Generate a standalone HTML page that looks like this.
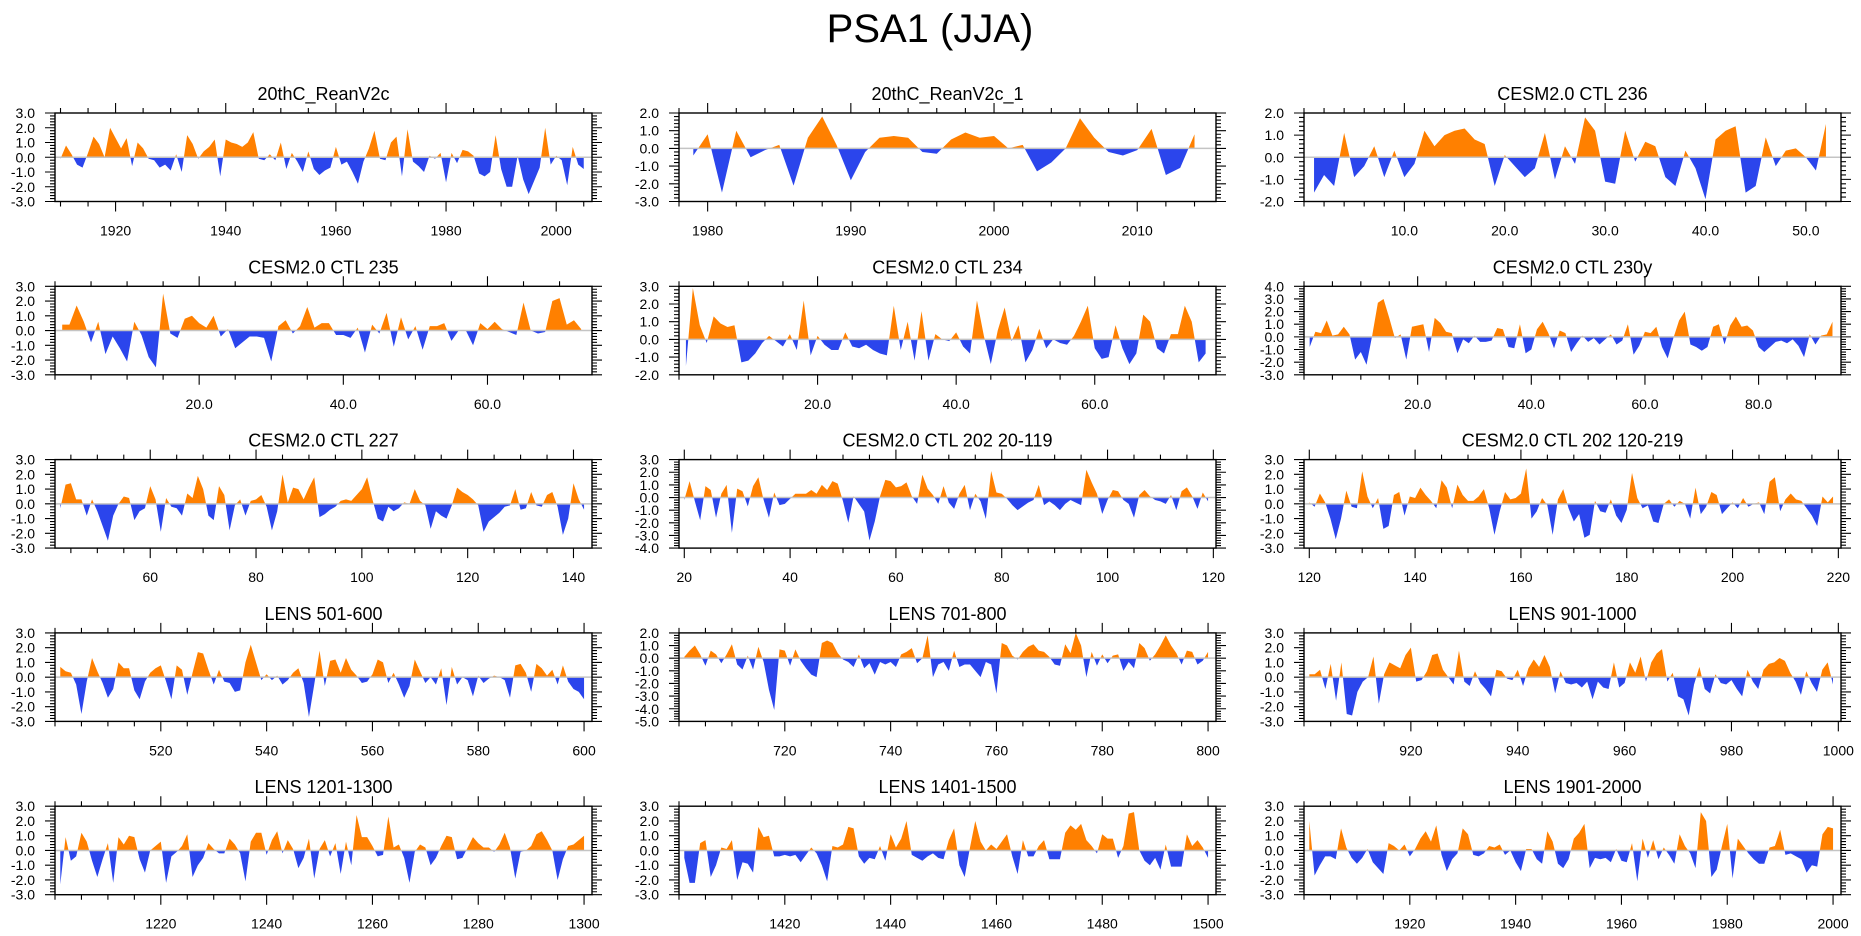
<!DOCTYPE html>
<html><head><meta charset="utf-8"><title>PSA1 (JJA)</title>
<style>
html,body{margin:0;padding:0;background:#fff;}
svg{display:block;font-family:"Liberation Sans",Arial,sans-serif;}
</style></head>
<body>
<svg id="chart" width="1861" height="936" viewBox="0 0 1861 936" xmlns="http://www.w3.org/2000/svg">
<text x="930" y="42" font-size="40" text-anchor="middle">PSA1 (JJA)</text>
</svg>
<script>
// ---- data arrays (one per panel) ----
const titles = ["20thC_ReanV2c","20thC_ReanV2c_1","CESM2.0 CTL 236","CESM2.0 CTL 235","CESM2.0 CTL 234","CESM2.0 CTL 230y","CESM2.0 CTL 227","CESM2.0 CTL 202 20-119","CESM2.0 CTL 202 120-219","LENS 501-600","LENS 701-800","LENS 901-1000","LENS 1201-1300","LENS 1401-1500","LENS 1901-2000"];
const xStarts = [1910,1979,1,1,1,1,43,20,120,501,701,901,1201,1401,1901];
const yMins = [-3,-3,-2,-3,-2,-3,-3,-4,-3,-3,-5,-3,-3,-3,-3];
const yMaxs = [3,2,2,3,3,4,3,3,3,3,2,3,3,3,3];
const xTicks0 = [1920,1940,1960,1980,2000];
const xTicks1 = [1980,1990,2000,2010];
const xTicks2 = [10,20,30,40,50];
const xTicks3 = [20,40,60];
const xTicks4 = [20,40,60];
const xTicks5 = [20,40,60,80];
const xTicks6 = [60,80,100,120,140];
const xTicks7 = [20,40,60,80,100,120];
const xTicks8 = [120,140,160,180,200,220];
const xTicks9 = [520,540,560,580,600];
const xTicks10 = [720,740,760,780,800];
const xTicks11 = [920,940,960,980,1000];
const xTicks12 = [1220,1240,1260,1280,1300];
const xTicks13 = [1420,1440,1460,1480,1500];
const xTicks14 = [1920,1940,1960,1980,2000];
const minorSteps = [5,2,2,5,5,5,5,5,5,5,5,5,5,5,5];
const tickDecimals = [0,0,1,1,1,1,0,0,0,0,0,0,0,0,0];

const s0 = [-0.1,0.8,0.2,-0.5,-0.7,0.3,1.4,0.9,0.0,2.0,1.3,0.6,1.3,-0.6,1.0,0.6,-0.1,-0.2,-0.7,-0.5,-0.9,0.2,-1.0,1.5,0.9,-0.1,0.4,0.7,1.2,-1.3,1.2,1.0,0.9,0.7,1.0,1.7,-0.1,-0.2,0.2,-0.2,1.0,-0.8,0.3,-0.3,-1.0,0.4,-0.8,-1.2,-0.9,-0.7,0.7,-0.5,-0.3,-1.0,-1.8,-0.3,0.6,1.8,-0.1,-0.2,1.0,1.4,-1.3,1.9,-0.3,-0.6,-1.0,0.1,-0.1,0.3,-1.7,0.3,-0.4,0.5,0.4,0.1,-1.1,-1.3,-1.0,1.5,-0.8,-2.0,-2.0,0.1,-1.5,-2.5,-1.6,-0.7,2.0,-0.5,0.1,-0.2,-1.9,0.7,-0.5,-0.8];
const s1 = [-0.4,0.8,-2.5,1.0,-0.5,-0.1,0.2,-2.1,0.6,1.8,0.2,-1.8,-0.2,0.6,0.7,0.6,-0.2,-0.3,0.5,0.9,0.6,0.7,0.0,0.2,-1.3,-0.8,0.0,1.7,0.6,-0.2,-0.4,-0.1,1.1,-1.5,-1.1,0.8];
const s2 = [-1.6,-0.8,-1.3,1.1,-0.9,-0.4,0.5,-0.9,0.3,-0.9,-0.3,1.2,0.5,1.0,1.2,1.3,0.8,0.6,-1.3,0.1,-0.4,-0.9,-0.5,1.1,-1.0,0.5,-0.3,1.8,1.2,-1.1,-1.2,1.2,-0.2,0.7,0.5,-0.9,-1.3,0.3,-0.5,-1.9,0.8,1.2,1.4,-1.6,-1.3,0.9,-0.4,0.3,0.4,0.0,-0.6,1.5];
const s3 = [0.4,0.4,1.7,0.6,-0.8,0.6,-1.6,-0.4,-1.2,-2.1,0.6,-0.3,-1.8,-2.5,2.5,-0.2,-0.5,0.8,1.0,0.5,0.2,1.0,-0.4,0.1,-1.2,-0.8,-0.4,-0.4,-0.5,-2.1,0.3,0.7,-0.2,0.3,1.6,0.2,0.5,0.5,-0.3,-0.3,-0.5,0.2,-1.5,0.4,-0.2,1.2,-1.1,0.9,-0.6,0.3,-1.3,0.3,0.3,0.5,-0.7,0.0,0.0,-1.0,0.5,0.1,0.6,0.1,-0.1,-0.3,1.9,0.0,-0.2,-0.1,2.0,2.2,0.4,0.7,0.1];
const s4 = [-1.5,2.9,0.8,-0.2,1.3,0.9,0.7,0.8,-1.3,-1.2,-0.8,-0.2,0.2,-0.1,-0.4,0.3,-0.6,2.2,-0.9,0.2,-0.3,-0.6,-0.6,0.4,-0.4,-0.5,-0.3,-0.6,-0.8,-0.9,1.9,-0.6,1.0,-1.2,1.6,-1.2,0.3,0.0,-0.1,0.4,-0.4,-0.8,2.2,0.2,-1.4,0.5,1.8,-0.1,0.8,-1.3,-0.6,0.6,-0.5,0.0,-0.2,-0.3,0.2,1.0,1.9,-0.5,-1.1,-1.0,0.8,-0.5,-1.4,-0.8,1.4,1.0,-0.5,-0.8,0.3,0.3,1.9,1.0,-1.3,-0.8];
const s5 = [-0.8,0.4,0.3,1.3,0.1,0.2,0.8,0.2,-1.8,-1.2,-2.2,0.1,2.7,3.0,1.5,-0.1,0.2,-1.8,0.8,0.9,1.0,-1.2,1.5,1.1,0.4,0.3,-1.3,-0.2,-0.5,0.1,-0.4,-0.4,-0.3,0.7,0.6,-0.8,-0.9,1.0,-1.3,-1.0,0.6,1.2,0.3,-0.9,0.5,0.3,-1.2,-0.5,0.1,-0.4,-0.1,-0.6,-0.2,0.2,-0.6,-0.3,1.0,-1.4,-0.7,0.4,0.3,0.8,-0.8,-1.7,-0.1,1.3,2.0,-0.6,-0.8,-1.1,-0.8,0.8,1.0,-0.6,0.9,1.6,0.8,0.9,0.5,-0.8,-1.2,-0.8,-0.4,-0.3,-0.5,-0.2,-0.7,-1.6,0.2,-0.6,0.1,0.2,1.2];
const s6 = [-0.3,1.3,1.4,0.3,0.3,-0.8,0.3,-0.5,-1.5,-2.5,-0.8,0.0,0.5,0.4,-1.1,-0.5,-0.3,1.2,0.3,-1.9,0.4,-0.2,-0.3,-0.8,0.7,0.4,1.9,1.0,-0.8,-1.1,1.2,0.6,-1.8,-0.1,0.3,-0.8,0.2,0.3,0.6,-0.2,-1.8,-0.5,2.0,0.1,1.1,1.0,0.3,1.1,1.8,-0.9,-0.7,-0.4,-0.2,0.2,0.3,0.2,0.6,1.0,1.8,0.3,-1.0,-1.2,-0.2,-0.5,-0.3,0.1,0.0,1.0,0.2,-0.1,-1.7,-0.5,-0.8,-1.0,-0.1,1.1,0.8,0.6,0.3,-0.1,-1.9,-1.2,-0.9,-0.6,-0.2,-0.1,1.0,-0.4,-0.3,0.8,-0.1,-0.2,0.6,0.8,-0.2,-2.1,-1.0,1.4,0.3,-0.4];
const s7 = [-0.2,1.3,-0.3,-1.8,0.9,0.6,-1.6,0.3,1.0,-2.8,0.7,0.5,-0.7,0.9,1.6,-0.2,-1.6,0.4,-0.6,-0.5,-0.1,0.3,0.3,0.3,0.6,0.3,1.0,0.6,1.3,1.1,-0.3,-2.0,0.1,-0.5,-1.1,-3.4,-1.9,0.1,1.4,1.3,0.8,0.9,1.2,0.1,-0.5,1.8,0.7,0.2,-0.5,0.9,-0.4,-0.9,0.3,1.0,-1.0,0.3,-0.3,-1.7,2.1,0.4,0.3,-0.1,-0.6,-1.0,-0.7,-0.4,-0.2,1.0,-0.6,-0.3,-0.6,-1.0,-0.5,-0.2,-0.4,-0.6,2.2,1.2,0.3,-1.3,-0.2,0.6,0.5,-0.2,-0.5,-1.6,0.2,0.6,0.1,-0.2,-0.3,-0.5,0.2,-1.0,0.5,0.8,0.1,-0.9,0.4,-0.3];
const s8 = [0.1,-0.2,0.7,0.1,-1.0,-2.4,-1.0,0.9,-0.2,-0.3,2.2,0.5,-0.3,0.4,-1.7,-1.5,0.6,0.8,-0.8,0.5,0.4,1.1,0.6,0.2,-0.3,1.6,1.1,-0.3,1.3,0.6,0.2,0.2,0.5,1.0,-0.3,-2.1,-0.5,0.8,0.3,0.4,0.7,2.4,-1.0,-0.5,0.4,-0.1,-2.1,0.3,1.0,-0.3,-1.2,-0.7,-2.3,-2.1,0.2,-0.5,-0.6,0.3,-0.8,-1.3,-0.4,2.1,0.4,-0.3,-0.1,-1.2,-1.3,0.0,0.3,-0.2,0.2,0.0,-1.0,1.1,-0.7,-0.2,0.8,0.6,-0.7,-0.3,0.1,-0.3,0.4,-0.2,0.0,0.1,-0.7,1.5,1.8,-0.5,0.3,0.7,0.3,0.2,-0.3,-0.8,-1.5,0.5,0.1,0.5];
const s9 = [0.7,0.4,0.3,-0.5,-2.5,-0.3,1.3,0.4,-0.4,-1.4,-0.8,1.0,0.6,0.6,-0.9,-1.5,-0.3,0.3,0.6,0.8,-0.3,-1.5,0.8,0.5,-1.2,0.3,1.7,1.6,0.5,-0.5,0.5,-0.3,-0.4,-1.0,-0.9,1.0,2.2,1.0,-0.2,0.2,-0.2,0.1,-0.5,-0.2,0.3,0.6,-0.4,-2.7,-0.5,1.8,-0.6,1.1,1.2,0.3,1.3,0.5,0.1,-0.4,-0.3,0.2,1.2,1.0,-0.4,0.3,-0.5,-1.4,-0.6,1.2,0.4,-0.4,0.0,-0.5,0.6,-1.9,0.7,-0.5,0.0,-0.2,-1.3,0.1,-0.4,-0.1,0.1,0.0,-0.2,-1.4,0.8,0.9,0.3,-1.0,0.9,0.6,0.1,0.5,-0.5,0.8,-0.3,-0.8,-1.0,-1.5];
const s10 = [0.1,0.6,1.0,0.3,-0.6,0.6,0.3,-0.4,0.3,1.1,-0.5,-0.9,0.2,-0.9,0.9,-0.3,-2.5,-4.1,0.7,0.6,-0.6,0.7,-0.2,-0.8,-1.3,-1.5,1.2,1.4,1.2,0.4,-0.1,-0.3,-0.7,0.3,-0.8,-0.4,-1.3,-0.3,-0.5,-0.3,-0.7,0.3,0.5,0.8,-0.4,0.0,1.8,-1.5,-0.5,-0.3,-1.0,0.6,-0.7,-0.5,-0.5,-1.0,-1.5,-0.3,-0.5,-2.8,1.2,1.0,0.2,-0.1,0.5,0.9,1.1,0.6,0.5,0.1,-0.5,-0.6,1.1,0.4,2.0,1.0,-1.5,0.5,-0.6,0.3,-0.4,0.2,0.3,-1.0,-0.3,-0.8,1.2,0.8,-0.2,0.3,1.0,1.8,1.0,0.4,-0.5,0.6,0.5,-0.5,-0.2,0.5];
const s11 = [0.2,0.2,0.5,-0.8,0.9,-1.6,1.0,-2.5,-2.6,-1.0,-0.3,0.0,1.4,-1.8,0.2,1.0,0.8,0.6,1.5,2.0,-0.3,-0.2,0.4,1.5,1.6,0.5,0.0,-0.5,1.8,-0.3,-0.6,0.4,-0.4,-0.8,-1.3,0.5,0.4,-0.1,-0.2,0.5,-0.6,0.6,1.2,0.7,1.5,0.7,-1.1,0.4,-0.4,-0.5,-0.4,-0.7,-0.3,-1.5,-0.3,-0.7,-0.8,1.0,-0.7,-0.4,1.0,0.3,1.4,-0.3,1.0,1.6,1.9,-0.3,0.3,-1.3,-1.5,-2.6,-0.5,0.7,-0.8,-1.1,0.2,-0.4,-0.5,-0.2,-0.8,-1.3,0.5,-0.3,-0.8,0.5,0.9,1.0,1.3,1.1,0.3,-0.3,-1.2,0.4,-0.4,-1.0,0.5,1.0,-0.5];
const s12 = [-2.3,0.9,-0.7,-0.4,1.2,0.6,-0.7,-1.8,-0.6,0.5,-2.2,0.9,0.4,1.0,0.9,-0.6,-1.5,0.0,0.3,0.6,-2.2,-0.4,-0.1,0.3,1.1,-1.8,-1.0,-0.5,0.5,0.1,-0.2,-0.2,0.8,0.4,-0.2,-2.1,0.6,1.2,1.2,-0.3,0.7,1.3,-0.2,0.7,0.1,-1.2,-0.5,0.8,-1.9,0.1,0.7,-0.4,0.5,-1.6,0.6,-1.0,2.4,0.9,0.9,0.3,-0.4,-0.3,2.3,0.2,0.4,-0.5,-2.2,-0.1,0.4,0.2,-1.0,-0.5,0.3,1.0,0.9,-0.6,-0.5,0.2,0.9,0.5,0.2,0.2,-0.1,0.4,1.2,0.2,-1.9,-0.1,0.0,0.3,1.1,1.3,0.7,0.0,-2.0,-0.6,0.3,0.4,0.7,1.0];
const s13 = [-0.5,-2.2,-2.2,0.5,0.7,-1.8,-1.0,0.2,0.1,0.7,-2.0,-0.8,-0.9,-1.5,1.6,0.9,1.0,-0.4,-0.4,-0.3,-0.4,-0.3,-0.8,-0.3,0.2,-0.2,-1.0,-2.1,0.3,0.2,0.4,1.6,1.5,-0.4,-0.9,-0.5,-0.6,0.3,-0.7,1.1,0.2,0.8,2.0,-0.3,-0.5,-0.7,-0.4,-0.2,-0.5,-0.6,0.7,1.5,-1.0,-1.8,0.2,2.0,0.6,0.0,0.4,0.1,0.6,1.1,-0.4,-1.6,0.7,-0.4,-0.4,0.3,0.7,-0.6,-0.6,-0.6,1.2,1.7,1.4,1.8,0.7,0.3,-0.2,1.1,0.8,0.8,-0.5,0.3,2.5,2.6,0.0,-0.7,-1.0,-0.5,-1.3,0.4,-1.1,-1.1,-1.1,1.1,0.3,0.7,0.2,-0.5];
const s14 = [2.0,-1.7,-1.0,-0.4,-0.4,-0.6,1.5,0.2,-0.5,-0.9,-0.5,0.1,-0.8,-1.2,-1.6,0.5,0.3,0.0,0.4,-0.4,0.1,0.8,1.3,0.6,1.7,-0.3,-1.4,-0.6,-0.2,1.5,1.1,-0.3,-0.4,-0.2,0.3,0.2,0.4,-0.3,0.0,-0.8,-1.4,0.1,0.1,-0.6,-0.9,1.3,0.6,-0.9,-1.2,-0.6,0.8,1.2,1.8,-1.2,-0.5,-0.6,-0.5,-0.8,0.1,-0.7,-0.8,0.5,-2.1,0.8,-0.5,0.7,-0.6,0.2,-0.3,-0.9,1.1,0.3,-0.2,-1.2,2.6,2.0,-1.8,-1.3,0.3,1.8,-1.9,0.8,0.3,-0.2,-0.6,-0.9,-0.9,0.2,0.3,1.4,-0.3,-0.2,-0.4,-0.6,-1.5,-1.0,-1.1,1.1,1.6,1.5];
const seriesList = [s0,s1,s2,s3,s4,s5,s6,s7,s8,s9,s10,s11,s12,s13,s14];
const tickList = [xTicks0,xTicks1,xTicks2,xTicks3,xTicks4,xTicks5,xTicks6,xTicks7,xTicks8,xTicks9,xTicks10,xTicks11,xTicks12,xTicks13,xTicks14];

// ---- drawing ----
const NS = "http://www.w3.org/2000/svg";
const svg = document.getElementById("chart");
const ORANGE = "#ff8000", BLUE = "#2b45ec";
const BOX_LEFT = [55, 679, 1304], BOX_W = 537, BOX_TOP0 = 113, ROW_PITCH = 173.3, BOX_H = 88.5;

function mk(tag, attrs, parent) {
  const e = document.createElementNS(NS, tag);
  for (const k in attrs) e.setAttribute(k, attrs[k]);
  (parent || svg).appendChild(e);
  return e;
}

for (let p = 0; p < 15; p++) {
  const col = p % 3, row = Math.floor(p / 3);
  const L = BOX_LEFT[col], T = BOX_TOP0 + row * ROW_PITCH, R = L + BOX_W, B = T + BOX_H;
  const data = seriesList[p];
  const x0 = xStarts[p], xEnd = x0 + data.length - 1;
  const xmin = x0 - 1.0, xmax = xEnd + 1.5;
  const ymin = yMins[p], ymax = yMaxs[p];
  const xs = v => L + (v - xmin) / (xmax - xmin) * BOX_W;
  const ys = v => B - (v - ymin) / (ymax - ymin) * BOX_H;

  const g = mk("g", {});
  
  

  const defs = mk("defs", {}, g);
  const y0 = ys(0);
  const cpA = mk("clipPath", {id: "ca" + p}, defs);
  mk("rect", {x: L, y: T, width: BOX_W, height: y0 - T}, cpA);
  const cpB = mk("clipPath", {id: "cb" + p}, defs);
  mk("rect", {x: L, y: y0, width: BOX_W, height: B - y0}, cpB);

  let pts = xs(x0).toFixed(2) + "," + y0.toFixed(2) + " ";
  for (let i = 0; i < data.length; i++) pts += xs(x0 + i).toFixed(2) + "," + ys(data[i]).toFixed(2) + " ";
  pts += xs(xEnd).toFixed(2) + "," + y0.toFixed(2);

  const pos = mk("polygon", {points: pts, fill: ORANGE, "clip-path": "url(#ca" + p + ")"}, g);
  
  
  const neg = mk("polygon", {points: pts, fill: BLUE, "clip-path": "url(#cb" + p + ")"}, g);
  
  

  const zl = mk("line", {x1: L, x2: R, y1: y0, y2: y0, stroke: "#c4c4c4", "stroke-width": 1.5}, g);
  
  

  const frame = mk("rect", {x: L, y: T, width: BOX_W, height: BOX_H, fill: "none", stroke: "#000", "stroke-width": 1.4}, g);
  
  

  const ticks = tickList[p];
  const mstep = minorSteps[p];
  let tp = "";
  for (let v = Math.ceil(xmin / mstep) * mstep; v <= xmax; v += mstep) {
    const X = xs(v).toFixed(2);
    const major = ticks.indexOf(v) >= 0;
    const len = major ? 10 : 5;
    tp += "M" + X + "," + B + "v" + len + "M" + X + "," + T + "v" + (-len);
  }
  for (let k = Math.round(ymin * 5); k <= Math.round(ymax * 5); k++) {
    const v = k / 5, Y = ys(v).toFixed(2);
    const len = (k % 5 === 0) ? 10 : 5;
    tp += "M" + L + "," + Y + "h" + (-len) + "M" + R + "," + Y + "h" + len;
  }
  const tk = mk("path", {d: tp, stroke: "#000", "stroke-width": 1.1, fill: "none"}, g);
  
  

  for (const v of ticks) {
    const t = mk("text", {x: xs(v).toFixed(2), y: B + 34, "font-size": 14, "text-anchor": "middle"}, g);
    
    
    t.textContent = v.toFixed(tickDecimals[p]);
  }
  for (let v = ymin; v <= ymax; v++) {
    const t = mk("text", {x: L - 20, y: (ys(v) + 5).toFixed(2), "font-size": 14, "text-anchor": "end"}, g);
    
    
    t.textContent = v.toFixed(1);
  }
  const tt = mk("text", {x: (L + R) / 2, y: T - 13, "font-size": 18, "text-anchor": "middle"}, g);
  
  
  tt.textContent = titles[p];
}
</script>
</body></html>
